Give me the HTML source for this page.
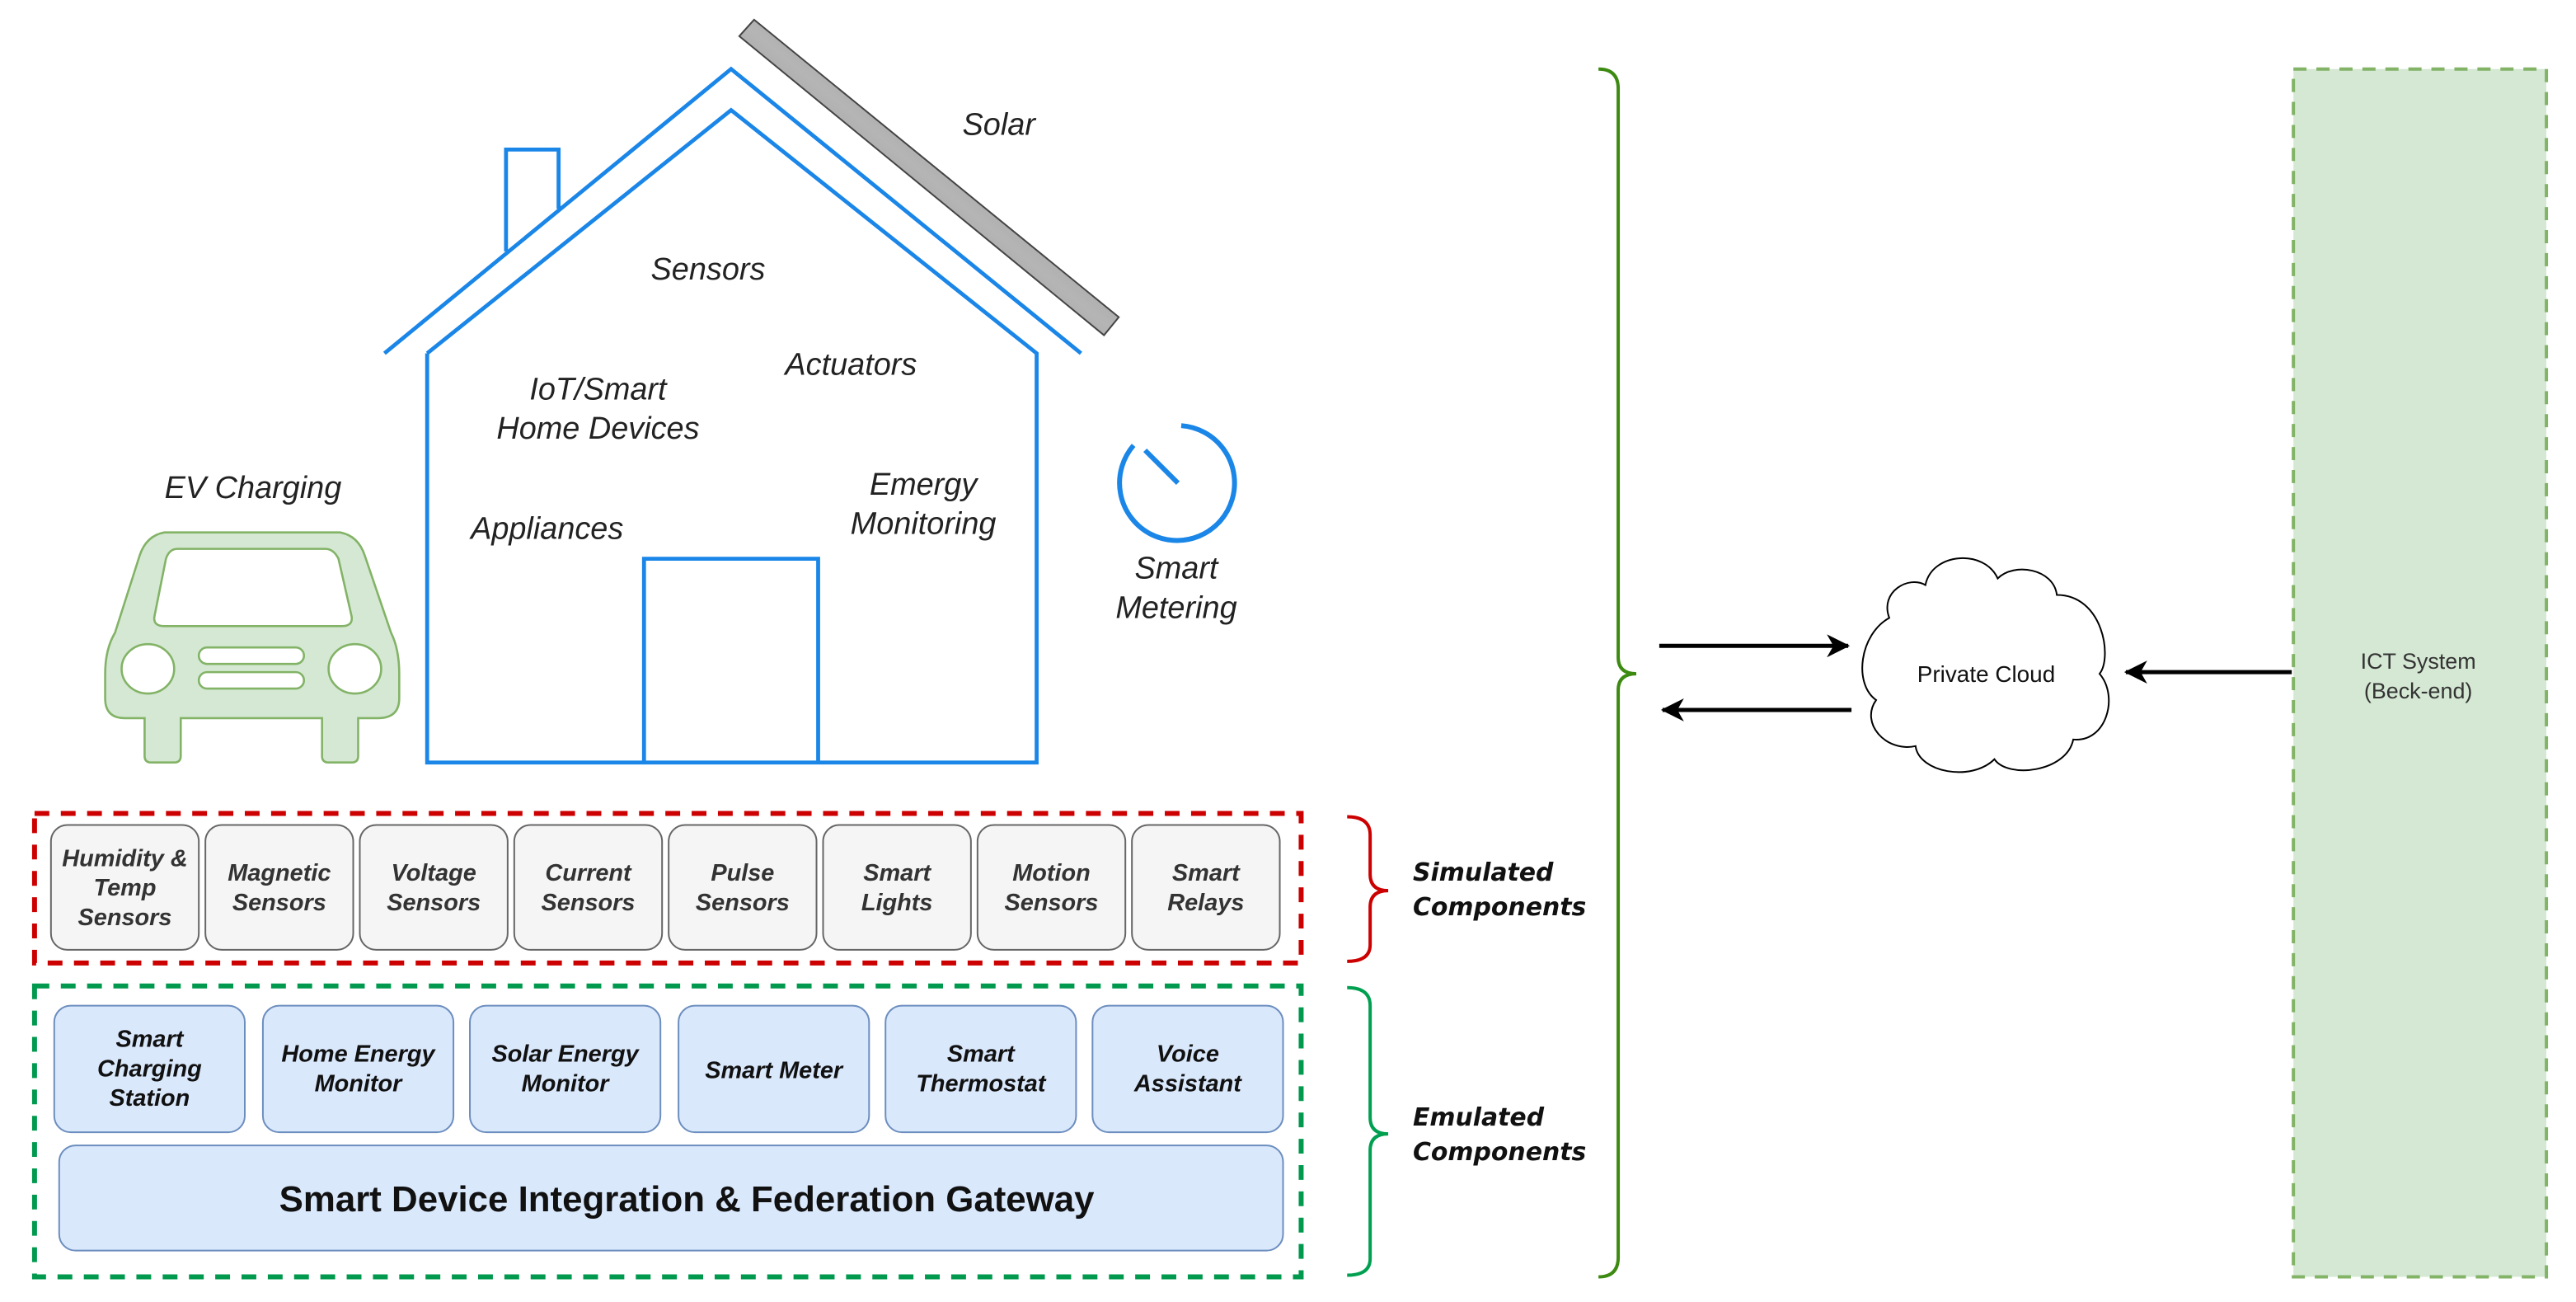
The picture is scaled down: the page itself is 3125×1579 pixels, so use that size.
<!DOCTYPE html>
<html><head><meta charset="utf-8"><style>
html,body{margin:0;padding:0;background:#fff;}
svg{display:block;}
.lbl{font-family:"Liberation Sans",sans-serif;font-style:italic;fill:#222;font-size:19px;text-anchor:middle;}
.bx{font-family:"Liberation Sans",sans-serif;font-style:italic;font-weight:bold;fill:#333;font-size:14.5px;text-anchor:middle;}
.bb{font-family:"Liberation Sans",sans-serif;font-style:italic;font-weight:bold;fill:#111;font-size:14.5px;text-anchor:middle;}
.side{font-family:"DejaVu Sans",sans-serif;font-style:italic;font-weight:bold;fill:#111;font-size:15px;}
</style></head><body>
<svg width="3125" height="1579" viewBox="0 0 1568 792.3" xmlns="http://www.w3.org/2000/svg">
<defs>
<linearGradient id="sg" gradientUnits="userSpaceOnUse" x1="450" y1="22" x2="460" y2="10">
<stop offset="0" stop-color="#555"/><stop offset="0.5" stop-color="#b0b0b0"/><stop offset="1" stop-color="#555"/>
</linearGradient>
<linearGradient id="sg2" x1="0" y1="1" x2="1" y2="0">
<stop offset="0" stop-color="#5a5a5a"/><stop offset="0.5" stop-color="#b5b5b5"/><stop offset="1" stop-color="#5a5a5a"/>
</linearGradient>
<marker id="ah" markerWidth="14" markerHeight="14" refX="13" refY="7" orient="auto" markerUnits="userSpaceOnUse">
<path d="M0,0 L14,7 L0,14 L4,7 Z" fill="#000"/>
</marker>
</defs>

<!-- solar panel -->
<polygon points="450,22 459,12 681,193 672,204" fill="url(#sg2)" stroke="#444" stroke-width="1"/>

<!-- house -->
<g fill="none" stroke="#1a86e8" stroke-width="2.4">
<polyline points="234,215 445,42 658,215"/>
<polyline points="260,215 445,67 631,215 631,464 260,464 260,215"/>
<polyline points="308,153 308,91 340,91 340,127"/>
<polyline points="392,464 392,340 498,340 498,464"/>
</g>

<!-- smart metering -->
<path d="M 719 259 A 35 35 0 1 1 690 271" fill="none" stroke="#1a86e8" stroke-width="3"/>
<line x1="697" y1="274" x2="717" y2="294" stroke="#1a86e8" stroke-width="3"/>

<!-- car -->
<g fill="#d5e8d4" stroke="#82b366" stroke-width="1.3">
<path d="M100,324 L207,324 Q218,326 222,338 L238,385 Q243,395 243,410 L243,425 Q243,437 230,437 L218,437 L218,460 Q218,464 214,464 L200,464 Q196,464 196,460 L196,437 L110,437 L110,460 Q110,464 106,464 L92,464 Q88,464 88,460 L88,437 L76,437 Q64,437 64,425 L64,410 Q64,395 70,385 L85,338 Q89,326 100,324 Z"/>
<path d="M108,334 L198,334 Q203,334 206,340 L214,375 Q215,381 208,381 L100,381 Q93,381 94,375 L101,340 Q103,334 108,334 Z" fill="#fff"/>
<ellipse cx="90" cy="407" rx="16" ry="15" fill="#fff"/>
<ellipse cx="216" cy="407" rx="16" ry="15" fill="#fff"/>
<rect x="121" y="394" width="64" height="10" rx="5" fill="#fff"/>
<rect x="121" y="409" width="64" height="10" rx="5" fill="#fff"/>
</g>

<!-- house labels -->
<text class="lbl" x="608" y="82">Solar</text>
<text class="lbl" x="431" y="170">Sensors</text>
<text class="lbl" x="364" y="243">IoT/Smart</text>
<text class="lbl" x="364" y="267">Home Devices</text>
<text class="lbl" x="518" y="228">Actuators</text>
<text class="lbl" x="562" y="301">Emergy</text>
<text class="lbl" x="562" y="325">Monitoring</text>
<text class="lbl" x="333" y="328">Appliances</text>
<text class="lbl" x="154" y="303">EV Charging</text>
<text class="lbl" x="716" y="352">Smart</text>
<text class="lbl" x="716" y="376">Metering</text>

<!-- simulated box -->
<rect x="21" y="495" width="771" height="91" fill="none" stroke="#cc0000" stroke-width="3" stroke-dasharray="9,7"/>
<g fill="#f5f5f5" stroke="#666" stroke-width="1">
<rect x="31" y="502" width="90" height="76" rx="10"/>
<rect x="125" y="502" width="90" height="76" rx="10"/>
<rect x="219" y="502" width="90" height="76" rx="10"/>
<rect x="313" y="502" width="90" height="76" rx="10"/>
<rect x="407" y="502" width="90" height="76" rx="10"/>
<rect x="501" y="502" width="90" height="76" rx="10"/>
<rect x="595" y="502" width="90" height="76" rx="10"/>
<rect x="689" y="502" width="90" height="76" rx="10"/>
</g>
<text class="bx" x="76" y="527">Humidity &amp;</text>
<text class="bx" x="76" y="545">Temp</text>
<text class="bx" x="76" y="563">Sensors</text>
<text class="bx" x="170" y="536">Magnetic</text><text class="bx" x="170" y="554">Sensors</text>
<text class="bx" x="264" y="536">Voltage</text><text class="bx" x="264" y="554">Sensors</text>
<text class="bx" x="358" y="536">Current</text><text class="bx" x="358" y="554">Sensors</text>
<text class="bx" x="452" y="536">Pulse</text><text class="bx" x="452" y="554">Sensors</text>
<text class="bx" x="546" y="536">Smart</text><text class="bx" x="546" y="554">Lights</text>
<text class="bx" x="640" y="536">Motion</text><text class="bx" x="640" y="554">Sensors</text>
<text class="bx" x="734" y="536">Smart</text><text class="bx" x="734" y="554">Relays</text>

<!-- emulated box -->
<rect x="21" y="600" width="771" height="177" fill="none" stroke="#00994d" stroke-width="3" stroke-dasharray="9,7"/>
<g fill="#dae8fc" stroke="#6c8ebf" stroke-width="1">
<rect x="33" y="612" width="116" height="77" rx="10"/>
<rect x="160" y="612" width="116" height="77" rx="10"/>
<rect x="286" y="612" width="116" height="77" rx="10"/>
<rect x="413" y="612" width="116" height="77" rx="10"/>
<rect x="539" y="612" width="116" height="77" rx="10"/>
<rect x="665" y="612" width="116" height="77" rx="10"/>
<rect x="36" y="697" width="745" height="64" rx="10"/>
</g>
<text class="bb" x="91" y="637">Smart</text><text class="bb" x="91" y="655">Charging</text><text class="bb" x="91" y="673">Station</text>
<text class="bb" x="218" y="646">Home Energy</text><text class="bb" x="218" y="664">Monitor</text>
<text class="bb" x="344" y="646">Solar Energy</text><text class="bb" x="344" y="664">Monitor</text>
<text class="bb" x="471" y="656">Smart Meter</text>
<text class="bb" x="597" y="646">Smart</text><text class="bb" x="597" y="664">Thermostat</text>
<text class="bb" x="723" y="646">Voice</text><text class="bb" x="723" y="664">Assistant</text>
<text x="418" y="737" text-anchor="middle" font-family="Liberation Sans, sans-serif" font-weight="bold" font-size="22" fill="#111">Smart Device Integration &amp; Federation Gateway</text>

<!-- braces -->
<path d="M820,497 Q834,497 834,508 L834,532 Q834,542 845,542 Q834,542 834,552 L834,575 Q834,585 820,585" fill="none" stroke="#cc0000" stroke-width="2"/>
<path d="M820,601 Q834,601 834,612 L834,680 Q834,690 845,690 Q834,690 834,700 L834,766 Q834,776 820,776" fill="none" stroke="#00a050" stroke-width="2"/>
<text class="side" x="860" y="536">Simulated</text><text class="side" x="860" y="557">Components</text>
<text class="side" x="860" y="685">Emulated</text><text class="side" x="860" y="706">Components</text>
<path d="M973,42 Q985,42 985,54 L985,400 Q985,410 996,410 Q985,410 985,420 L985,765 Q985,777 973,777" fill="none" stroke="#3d8a12" stroke-width="2"/>

<!-- arrows -->
<line x1="1010" y1="393" x2="1125" y2="393" stroke="#000" stroke-width="2.5" marker-end="url(#ah)"/>
<line x1="1127" y1="432" x2="1012" y2="432" stroke="#000" stroke-width="2.5" marker-end="url(#ah)"/>
<line x1="1395" y1="409" x2="1294" y2="409" stroke="#000" stroke-width="2.5" marker-end="url(#ah)"/>

<!-- cloud -->
<path d="M1150,376 C1144,360 1162,350 1172,356 C1176,336 1208,334 1216,352 C1226,342 1250,346 1252,362 C1280,362 1286,400 1278,410 C1290,424 1282,452 1262,450 C1258,470 1222,474 1214,462 C1200,476 1168,470 1166,454 C1148,458 1132,440 1142,426 C1128,416 1132,386 1150,376 Z" fill="#fff" stroke="#000" stroke-width="1"/>
<text x="1209" y="415" text-anchor="middle" font-family="Liberation Sans, sans-serif" font-size="14" fill="#111">Private Cloud</text>

<!-- ICT -->
<rect x="1396" y="42" width="154" height="735" fill="#d5e8d4" stroke="#82b366" stroke-width="2" stroke-dasharray="8,6"/>
<text x="1472" y="407" text-anchor="middle" font-family="Liberation Sans, sans-serif" font-size="13.5" fill="#333">ICT System</text>
<text x="1472" y="425" text-anchor="middle" font-family="Liberation Sans, sans-serif" font-size="13.5" fill="#333">(Beck-end)</text>
</svg>
</body></html>
